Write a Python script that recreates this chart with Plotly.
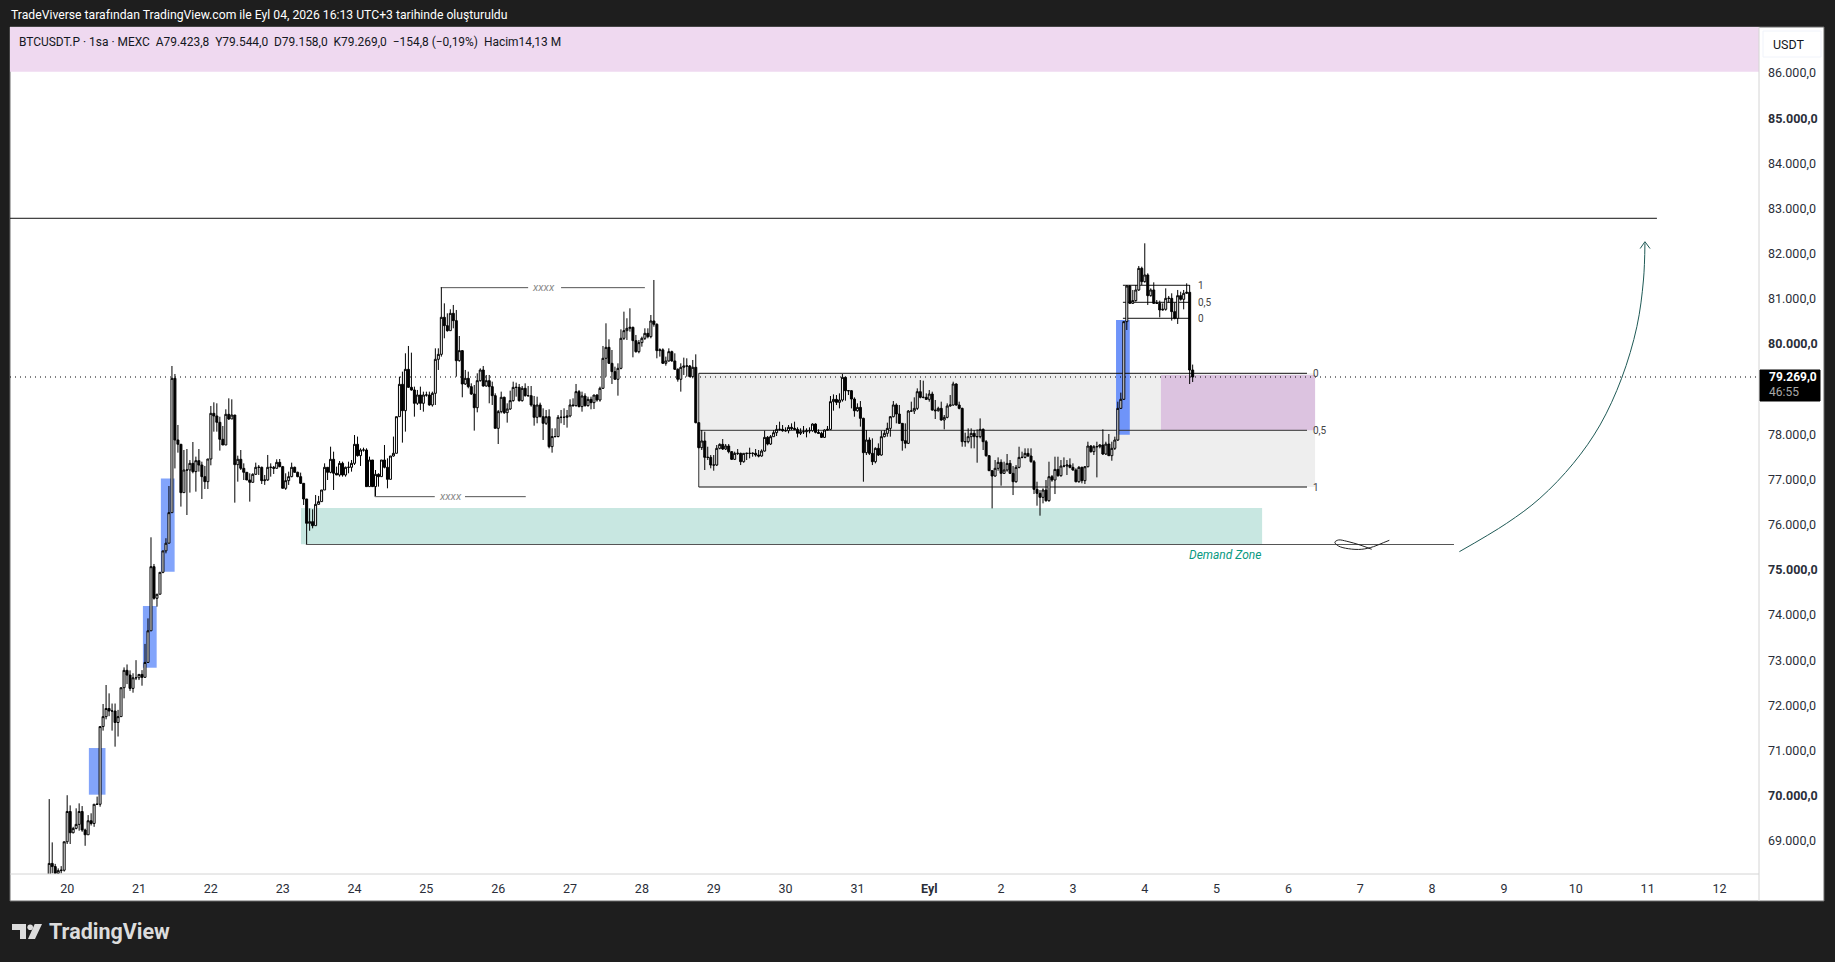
import plotly.graph_objects as go
import pandas as pd

# 1 hour candles, first one is 19 Aug 18:00
first_open = 68150
closes = [
    68500, 68430, 68280, 68340, 68350, 68980,
    69650, 69180, 69276, 69365, 69650, 69240, 69135, 69445, 69385, 69810, 69810, 71530,
    71750, 71930, 71875, 71875, 71620, 71750, 72390, 72775, 72670, 72375, 72610, 72610,
    72685, 72620, 72950, 73650, 75070, 74370, 74460, 74945, 75420, 75590, 76266, 79240,
    77875, 77780, 76709, 77210, 77210, 77358, 77174, 77417, 77320, 77063, 76952, 77454,
    78465, 78406, 78266, 77890, 77764, 78443, 78340, 78428, 77329, 77447, 77247, 77159,
    76989, 76937, 77115, 77270, 77270, 76974, 76990, 77270, 77270, 77247, 77380, 77285,
    76805, 76975, 77063, 77270, 77159, 77063, 76915, 76569, 76030, 76066, 75978, 76450,
    76510, 76768, 77270, 77159, 77447, 77137, 77100, 77358, 77100, 77270, 77270, 77358,
    77779, 77528, 77653, 77653, 76842, 77432, 76842, 77115, 77063, 77432, 77270, 77004,
    77520, 77580, 78391, 79107, 78524, 79439, 79041, 78982, 78687, 78871, 78687, 78871,
    78871, 78650, 78908, 79661, 79771, 80591, 80406, 80295, 80679, 80517, 79631, 79853,
    79115, 79240, 79056, 78893, 78590, 79188, 79424, 79070, 79188, 79056, 78856, 78133,
    78502, 78820, 78480, 78561, 78746, 79040, 79040, 78746, 79019, 78856, 78856, 78650,
    78377, 78650, 78390, 78244, 78391, 77727, 77950, 77950, 78377, 78377, 78377, 78407,
    78650, 78635, 78945, 78613, 78849, 78635, 78775, 78701, 78871, 78760, 79019, 79683,
    79926, 79572, 79388, 79218, 79461, 80126, 80295, 80347, 80369, 80074, 79830, 80030,
    80126, 80236, 80163, 80510, 80436, 79853, 79870, 79572, 79624, 79830, 79624, 79440,
    79218, 79484, 79513, 79513, 79277, 79484, 78258, 77705, 77853, 77490, 77490, 77320,
    77320, 77690, 77778, 77675, 77741, 77616, 77446, 77579, 77579, 77394, 77579, 77579,
    77579, 77579, 77542, 77520, 77630, 77933, 77785, 77948, 78036, 78110, 78110, 78080,
    78080, 78155, 78132, 78110, 78022, 78058, 78058, 78080, 78080, 78228, 78044, 78022,
    77933, 78095, 78110, 78723, 78774, 78708, 78760, 79262, 78966, 78966, 78782, 78523,
    78597, 78354, 77594, 77874, 77579, 77394, 77690, 77542, 77948, 78022, 78132, 78390,
    78650, 78450, 78243, 77860, 77800, 78516, 78516, 78575, 78944, 78819, 78819, 78774,
    78892, 78538, 78523, 78575, 78317, 78376, 78627, 78649, 79114, 78649, 78575, 77837,
    77837, 77948, 78022, 77948, 77948, 78110, 77837, 77527, 77195, 77077, 77247, 77380,
    77136, 77210, 77357, 77136, 76951, 77269, 77490, 77490, 77579, 77520, 77394, 76782,
    76693, 76605, 76767, 76531, 77062, 76988, 77224, 77084, 77298, 77298, 77320, 77269,
    77210, 76951, 77269, 76974, 77283, 77741, 77616, 77726, 77726, 77764, 77564, 77785,
    77527, 77690, 77874, 78575, 78775, 80495, 81284, 80900, 80960, 81196, 81675, 81380,
    81528, 81070, 81196, 80900, 80900, 80753, 80768, 81011, 81011, 80716, 80568, 81070,
    80989, 81122, 81144, 79424, 79269,
]
highs = [
    69925, 68966, 68490, 68390, 68440, 68980,
    70010, 69785, 69310, 69720, 69830, 69770, 69270, 69570, 69610, 69810, 69980, 71530,
    72030, 72450, 72265, 72040, 72040, 71900, 72390, 72840, 72905, 72775, 72710, 73000,
    72685, 72780, 73360, 73925, 75720, 75130, 74460, 74945, 75420, 75700, 76856, 79513,
    79336, 78207, 77780, 77653, 77675, 77430, 77830, 77506, 77675, 77395, 77300, 77454,
    78628, 78709, 78687, 78390, 78185, 78554, 78797, 78775, 78428, 77528, 77653, 77358,
    77159, 77137, 77137, 77373, 77320, 77285, 77100, 77543, 77358, 77300, 77447, 77454,
    77300, 77137, 77174, 77373, 77285, 77174, 77152, 76915, 76560, 76360, 76340, 76657,
    76636, 76768, 77358, 77270, 77727, 77616, 77285, 77410, 77395, 77285, 77395, 77432,
    77985, 77950, 77690, 77705, 77690, 77506, 77432, 77210, 77137, 77432, 77764, 77469,
    77520, 77950, 78391, 79277, 79388, 79794, 79956, 79808, 79056, 78982, 79056, 78945,
    78945, 78945, 78945, 79904, 79904, 81255, 80900, 80679, 80768, 80864, 80753, 80177,
    79867, 79425, 79388, 79129, 79092, 79351, 79461, 79513, 79314, 79314, 79166, 78908,
    78539, 78945, 78834, 78687, 78967, 79166, 79144, 79115, 79070, 79129, 79070, 79070,
    78849, 78834, 78701, 78576, 78539, 78554, 78133, 78133, 78428, 78539, 78576, 78539,
    78775, 78797, 79115, 78982, 78945, 78908, 78834, 78834, 78871, 78886, 79056, 79956,
    80458, 80104, 79867, 79498, 79572, 80325, 80716, 80570, 80790, 80384, 80200, 80089,
    80163, 80347, 80347, 80642, 81417, 80458, 79904, 79904, 79720, 79904, 79853, 79794,
    79461, 79572, 79698, 79683, 79535, 79646, 79771, 78258, 78095, 78058, 77726, 77542,
    77542, 77763, 77800, 77896, 77785, 77785, 77630, 77616, 77675, 77594, 77579, 77594,
    77704, 77601, 77675, 77653, 77667, 78081, 77963, 77985, 78095, 78206, 78280, 78206,
    78155, 78206, 78243, 78280, 78155, 78132, 78184, 78132, 78155, 78243, 78243, 78110,
    78058, 78110, 78184, 78848, 78885, 78870, 78907, 79335, 79276, 78981, 78981, 78819,
    78686, 78737, 78368, 78095, 77933, 77911, 77712, 77800, 78081, 78095, 78258, 78405,
    78737, 78686, 78649, 78243, 78243, 78538, 78723, 78819, 79018, 79202, 79188, 78907,
    78981, 78944, 78760, 78612, 78723, 78428, 78686, 78870, 79165, 79129, 78723, 78590,
    78036, 78132, 78132, 78095, 78110, 78353, 78132, 77874, 77542, 77210, 77431, 77490,
    77446, 77394, 77564, 77431, 77298, 77320, 77726, 77616, 77690, 77690, 77690, 77431,
    76951, 76767, 76804, 76988, 77394, 77099, 77505, 77505, 77431, 77490, 77431, 77468,
    77357, 77247, 77298, 77284, 77298, 77837, 77763, 77763, 77837, 77785, 78110, 77837,
    78007, 77837, 77948, 78723, 78923, 80495, 81306, 81306, 81196, 81306, 81727, 81712,
    82229, 81565, 81232, 81365, 80974, 80960, 80900, 81232, 81063, 81122, 80915, 81196,
    81158, 81196, 81343, 81306, 79544,
]
lows = [
    68100, 68280, 68150, 68240, 68280, 68320,
    68930, 68930, 69165, 69255, 69225, 69200, 68890, 69135, 69340, 69310, 69795, 69756,
    71440, 71690, 71760, 71440, 71085, 71310, 71750, 72155, 72470, 72320, 72280, 72560,
    72560, 72435, 72620, 72950, 73650, 74340, 74185, 74460, 74925, 75365, 75590, 76266,
    77245, 77594, 76400, 76709, 76214, 76709, 77137, 76731, 77174, 76569, 76790, 76790,
    77314, 78059, 78059, 77639, 77764, 77764, 78317, 78340, 76487, 76952, 77210, 76989,
    76989, 76510, 76937, 77100, 77100, 76900, 76880, 76970, 77063, 77122, 77247, 77270,
    76805, 76770, 76880, 77050, 77150, 77050, 76900, 76436, 75572, 75866, 75919, 75978,
    76450, 76510, 76768, 76989, 77137, 76768, 77100, 77063, 77063, 77063, 77137, 77174,
    77321, 77506, 77300, 77617, 76842, 76842, 76842, 76635, 76842, 77063, 77247, 76805,
    77004, 77506, 77580, 78391, 77816, 78060, 79026, 78966, 78391, 78650, 78539, 78502,
    78834, 78635, 78613, 78650, 79425, 79720, 80126, 80273, 80295, 80347, 79277, 79609,
    78820, 79092, 79019, 78871, 78082, 78487, 79166, 79056, 79056, 78687, 78650, 78133,
    77786, 78465, 78450, 78259, 78539, 78723, 78834, 78723, 78723, 78834, 78834, 78613,
    78192, 78244, 78377, 77875, 78207, 77690, 77594, 77934, 77934, 78244, 78207, 78148,
    78377, 78613, 78613, 78598, 78502, 78613, 78613, 78554, 78561, 78723, 78723, 79004,
    79277, 79557, 79115, 79218, 78856, 79439, 80089, 80089, 80273, 79705, 79808, 79794,
    79941, 80089, 80126, 80126, 80384, 79683, 79720, 79557, 79520, 79609, 79609, 79425,
    79166, 78945, 79314, 79277, 79262, 79240, 78244, 77690, 77653, 77210, 77431, 77247,
    77195, 77298, 77667, 77653, 77653, 77579, 77431, 77431, 77542, 77320, 77372, 77431,
    77468, 77505, 77505, 77490, 77505, 77616, 77756, 77763, 77948, 77963, 78081, 78058,
    78058, 78022, 78095, 78095, 77933, 77985, 78007, 77933, 78022, 78058, 78022, 78007,
    77918, 77918, 78081, 78095, 78524, 78649, 78575, 78723, 78745, 78870, 78575, 78390,
    78501, 78170, 76951, 77542, 77542, 77320, 77357, 77520, 77527, 77933, 77948, 77948,
    78376, 78243, 78228, 77638, 77690, 77785, 78501, 78450, 78538, 78796, 78796, 78760,
    78723, 78523, 78339, 78501, 78302, 78110, 78354, 78612, 78634, 78634, 78553, 77726,
    77726, 77800, 77690, 77690, 77372, 77911, 77653, 77505, 77195, 76361, 77062, 77195,
    76863, 77121, 77173, 77121, 76656, 76929, 77247, 77468, 77468, 77505, 77372, 76678,
    76420, 76199, 76472, 76509, 76509, 76951, 76678, 77062, 77062, 77269, 77099, 77247,
    77195, 76937, 76929, 76915, 76900, 77269, 77594, 77542, 77047, 77690, 77542, 77542,
    77520, 77416, 77653, 77852, 78560, 78760, 80310, 80886, 80886, 80937, 81174, 81306,
    81358, 80864, 81048, 80886, 80886, 80590, 80738, 80738, 80915, 80517, 80546, 80443,
    80960, 80767, 81107, 79114, 79158,
]

# 79.000 is hidden behind the price tag in the reference
price_ticks = [p for p in range(69000, 87000, 1000) if p != 79000]
price_labels = [f"<b>{p // 1000}.000,0</b>" if p % 5000 == 0 else f"{p // 1000}.000,0" for p in price_ticks]
day_ticks = pd.date_range("2026-08-20", "2026-09-12", freq="D")
day_labels = ["<b>Eyl</b>" if d.day == 1 else str(d.day) for d in day_ticks]

last_price = 79269
resistance = 82783
demand_low, demand_high = 75565, 76369
fib_top, fib_mid, fib_bottom = 79351, 78089, 76834
small_fib = [81300, 80923, 80569]
blue_zones = [(7.25, 12.8, 70022, 71055), (25.3, 29.9, 72833, 74199), (31.3, 35.9, 74959, 77022)]
curve_hours = [465.1, 480.9, 492.0, 503.2, 512.1, 519.3, 524.4, 526.6, 527.1]
curve_prices = [75402, 76030, 76584, 77359, 78207, 79241, 80383, 81417, 82230]
head_hours = [525.5, 527.1, 528.8]
head_prices = [82113, 82265, 82113]
scribble_hours = [435.8, 431.9, 427.5, 424.7, 423.5, 424.7, 428, 432.5, 436.4, 439.7, 441.7]
scribble_prices = [75455, 75550, 75632, 75661, 75610, 75528, 75468, 75455, 75513, 75601, 75654]

DARK = "#1e1e1e"
start = pd.Timestamp("2026-08-20")
def t(hours):
    return start + pd.Timedelta(hours=hours)

times = [t(h) for h in range(-6, 377)]
opens = [first_open] + closes[:-1]
# last candle open comes straight from the header
opens[-1] = 79423.8

# plot area in page pixels, only for the bits outside the axes
def px(x):
    return (x - 10) / 1749
def py(y):
    return 1 - (y - 27) / 847

shapes = []
def box(x0, x1, y0, y1, color):
    shapes.append(dict(type="rect", layer="below", x0=t(x0), x1=t(x1), y0=y0, y1=y1,
                       fillcolor=color, line_width=0))
def seg(x0, x1, y0, y1=None, color="#222222", width=1, dash="solid"):
    shapes.append(dict(type="line", layer="below", x0=t(x0), x1=t(x1), y0=y0, y1=y0 if y1 is None else y1,
                       line=dict(color=color, width=width, dash=dash)))
def paper_rect(x0, x1, y0, y1, fill, line=None, layer="below"):
    shapes.append(dict(type="rect", layer=layer, xref="paper", yref="paper",
                       x0=px(x0), x1=px(x1), y0=py(y1), y1=py(y0), fillcolor=fill,
                       line=dict(color=line or fill, width=1)))
def paper_path(points, fill):
    d = "M" + " L".join(f"{px(a):.5f},{py(b):.5f}" for a, b in points) + " Z"
    shapes.append(dict(type="path", layer="above", xref="paper", yref="paper", path=d,
                       fillcolor=fill, line_width=0))

paper_rect(10, 1824, 27, 901, "#ffffff", "#6a6a6a")
box(-19.1, 565.2, 86028, 87100, "#efd9f0")
box(78.1, 399.2, demand_low, demand_high, "#c8e7e1")
box(211, 416.9, fib_bottom, fib_top, "#eeeeee")
box(365.4, 416.9, fib_mid, fib_top - 37, "#dcc3e0")
for z in blue_zones:
    box(z[0], z[1], z[2], z[3], "#82a4fb")
box(350.4, 355.0, 77992, 80531, "#6f94f9")

seg(-19.1, 531.1, resistance, color="#111111")
seg(-19.1, 565.2, last_price, color="#000000", dash="1px,4px")
seg(79.75, 463.3, 75561, color="#555555")
seg(211, 414.2, fib_top, color="#111111")
seg(211.5, 414.2, fib_mid, color="#333333")
seg(211, 414.2, fib_bottom, color="#111111")
seg(211, 211, fib_bottom, fib_top, color="#333333")
for p in small_fib:
    seg(352.7, 375, p, color="#111111")
seg(124.8, 154, 81247, color="#555555")
seg(165, 193, 81247, color="#555555")
seg(102.8, 122.8, 76620, color="#555555")
seg(132.9, 153.2, 76620, color="#555555")
seg(102.8, 102.8, 76620, 76830, color="#555555")

# axis lines, USDT button, price tag
shapes.append(dict(type="line", xref="paper", yref="paper", x0=1, x1=1, y0=py(901), y1=1,
                   line=dict(color="#d4d4d4", width=1)))
shapes.append(dict(type="line", xref="paper", yref="paper", x0=0, x1=1, y0=0, y1=0,
                   line=dict(color="#d4d4d4", width=1)))
paper_rect(1763, 1821, 31, 57, "#ffffff", "#f0f3fa", layer="above")
paper_rect(1760, 1820, 370, 401, "#000000", layer="above")

# TradingView mark
paper_path([(12, 924), (26, 924), (26, 939), (20, 939), (20, 930), (12, 930)], "#dcdcdc")
paper_path([(42, 924), (35, 939), (28, 939), (34.7, 924)], "#dcdcdc")
shapes.append(dict(type="circle", layer="above", xref="paper", yref="paper",
                   x0=px(27.4), x1=px(33), y0=py(930), y1=py(924.4), fillcolor="#dcdcdc", line_width=0))

FONT = "Roboto"
notes = []
def label(x, y, text, size=12, color="#131722", anchor="left", italic=False):
    # x,y in page pixels
    notes.append(dict(xref="paper", yref="paper", x=px(x), y=py(y), text=text, showarrow=False,
                      xanchor=anchor, yanchor="middle", borderpad=0,
                      font=dict(family=FONT, size=size, color=color, style="italic" if italic else "normal")))
def chart_label(h, p, text, size=10, color="#444444", anchor="left", italic=False):
    notes.append(dict(x=t(h), y=p, text=text, showarrow=False, xanchor=anchor, yanchor="middle", borderpad=0,
                      font=dict(family=FONT, size=size, color=color, style="italic" if italic else "normal")))

label(10, 15, "TradeViverse tarafından TradingView.com ile Eyl 04, 2026 16:13 UTC+3 tarihinde oluşturuldu", 12.2, "#ffffff")
label(18, 42, "BTCUSDT.P · 1sa · MEXC&nbsp;&nbsp;A79.423,8&nbsp;&nbsp;Y79.544,0&nbsp;&nbsp;D79.158,0&nbsp;&nbsp;K79.269,0&nbsp;&nbsp;−154,8 (−0,19%)&nbsp;&nbsp;Hacim14,13 M", 11.95)
label(1772, 44.5, "USDT", 12.5)
label(1768, 377, "<b>79.269,0</b>", 12, "#ffffff")
label(1768, 392, "46:55", 12, "#a8a8a8")
label(48, 931, "<b>TradingView</b>", 21.5, "#dcdcdc")
chart_label(416, fib_top, "0")
chart_label(416, fib_mid, "0,5")
chart_label(416, fib_bottom, "1")
chart_label(377.5, small_fib[0], "1")
chart_label(377.5, small_fib[1], "0,5")
chart_label(377.5, small_fib[2], "0")
chart_label(159, 81247, "xxxx", 11, "#8a8a8a", "center", True)
chart_label(127.9, 76620, "xxxx", 11, "#8a8a8a", "center", True)
chart_label(399.2, 75328, "Demand Zone", 12, "#089981", "right", True)

fig = go.Figure()
fig.add_trace(go.Candlestick(
    x=times, open=opens, high=highs, low=lows, close=closes,
    increasing=dict(line=dict(color="#000000", width=1), fillcolor="#ffffff"),
    decreasing=dict(line=dict(color="#000000", width=1), fillcolor="#000000"),
    whiskerwidth=0, showlegend=False,
))
fig.add_trace(go.Scatter(x=[t(h) for h in curve_hours], y=curve_prices, mode="lines",
                         line=dict(color="#1f5a56", width=1, shape="spline"), showlegend=False))
fig.add_trace(go.Scatter(x=[t(h) for h in head_hours], y=head_prices, mode="lines",
                         line=dict(color="#1f5a56", width=1), showlegend=False))
fig.add_trace(go.Scatter(x=[t(h) for h in scribble_hours], y=scribble_prices, mode="lines",
                         line=dict(color="#222222", width=1, shape="spline"), showlegend=False))

fig.update_layout(
    width=1835, height=962,
    margin=dict(l=10, r=76, t=27, b=88),
    paper_bgcolor=DARK, plot_bgcolor="#ffffff",
    showlegend=False, boxgap=0.05,
    shapes=shapes, annotations=notes,
    font=dict(family=FONT, size=12, color="#131722"),
    xaxis=dict(
        range=[t(-19.1), t(565.2)], rangeslider_visible=False, showgrid=False, zeroline=False,
        tickmode="array", tickvals=list(day_ticks), ticktext=day_labels,
        ticks="", ticklabelstandoff=5, tickfont=dict(family=FONT, size=12.5, color="#2a2e39"),
    ),
    yaxis=dict(
        side="right", range=[68266, 87018], showgrid=False, zeroline=False,
        tickmode="array", tickvals=price_ticks, ticktext=price_labels,
        ticks="", ticklabelstandoff=8, tickfont=dict(family=FONT, size=12.5, color="#2a2e39"),
    ),
)

fig.write_html("out.html", config=dict(displayModeBar=False),
               post_script=f"document.body.style.margin='0';document.body.style.background='{DARK}';document.body.style.overflow='hidden';")
